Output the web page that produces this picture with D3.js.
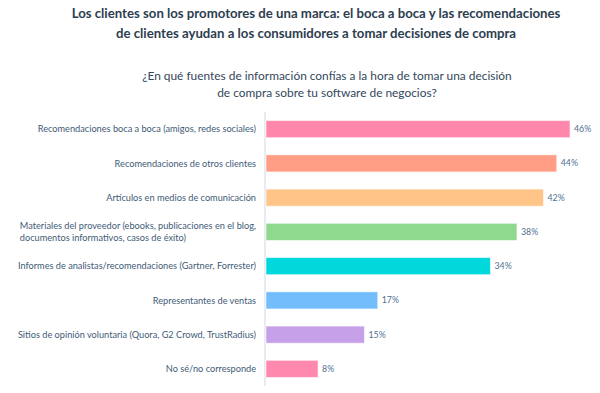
<!DOCTYPE html>
<html>
<head>
<meta charset="utf-8">
<script src="https://cdn.jsdelivr.net/npm/d3@7"></script>
<style>
html,body{margin:0;padding:0;background:#fff;}
svg{display:block;font-family:Lato, "Open Sans", sans-serif;}
</style>
</head>
<body>
<svg id="chart" width="600" height="393"></svg>
<script>
const titleLines = [
  "Los clientes son los promotores de una marca: el boca a boca y las recomendaciones",
  "de clientes ayudan a los consumidores a tomar decisiones de compra"
];
const subtitleLines = [
  "¿En qué fuentes de información confías a la hora de tomar una decisión",
  "de compra sobre tu software de negocios?"
];
const categories = [
  ["Recomendaciones boca a boca (amigos, redes sociales)"],
  ["Recomendaciones de otros clientes"],
  ["Artículos en medios de comunicación"],
  ["Materiales del proveedor (ebooks, publicaciones en el blog,", "documentos informativos, casos de éxito)"],
  ["Informes de analistas/recomendaciones (Gartner, Forrester)"],
  ["Representantes de ventas"],
  ["Sitios de opinión voluntaria (Quora, G2 Crowd, TrustRadius)"],
  ["No sé/no corresponde"]
];
const values = [46, 44, 42, 38, 34, 17, 15, 8];
const colors = ["#ff87ab", "#ff9e85", "#ffc588", "#8ed98e", "#00d8db", "#73bdfd", "#c6a0e8", "#ff89ae"];

const svg = d3.select("#chart");
const ids = d3.range(values.length);

const x = d3.scaleLinear().domain([0, d3.max(values)]).range([265, 570]);
const y = d3.scaleBand().domain(ids).range([112, 386]).paddingInner(0.5).paddingOuter(0.25);

// Title
svg.append("g").selectAll("text").data(titleLines).join("text")
  .attr("x", 316).attr("y", (d, i) => 18 + i * 20)
  .attr("text-anchor", "middle")
  .attr("font-size", 13.2).attr("font-weight", 700).attr("fill", "#2d3e50")
  .text(d => d);

// Subtitle
svg.append("g").selectAll("text").data(subtitleLines).join("text")
  .attr("x", 327).attr("y", (d, i) => 80 + i * 17)
  .attr("text-anchor", "middle")
  .attr("font-size", 11.9).attr("fill", "#33475b")
  .text(d => d);

// Axis line
svg.append("line")
  .attr("x1", x(0)).attr("x2", x(0))
  .attr("y1", y.range()[0]).attr("y2", y.range()[1])
  .attr("stroke", "#e1e6ee").attr("stroke-width", 1.5);

// Bars
svg.append("g").selectAll("rect").data(ids).join("rect")
  .attr("x", x(0) + 1)
  .attr("y", i => y(i))
  .attr("width", i => x(values[i]) - x(0) - 1)
  .attr("height", y.bandwidth())
  .attr("fill", i => colors[i])
  .attr("stroke", "rgba(255,255,255,0.55)")
  .attr("stroke-width", 1);

// Value labels
svg.append("g").selectAll("text").data(ids).join("text")
  .attr("x", i => x(values[i]) + 4)
  .attr("y", i => y(i) + y.bandwidth() / 2)
  .attr("dy", "0.35em")
  .attr("font-size", 8.8).attr("fill", "#516f90")
  .text(i => values[i] + "%");

// Category labels
const labelRight = 256;
const lg = svg.append("g");
ids.forEach(i => {
  const lines = categories[i];
  const cy = y(i) + y.bandwidth() / 2;
  const lh = 12.3;
  const t = lg.append("text")
    .attr("font-size", 9.2).attr("fill", "#425b76");
  lines.forEach((ln, j) => {
    t.append("tspan")
      .attr("y", cy + (j - (lines.length - 1) / 2) * lh)
      .attr("dy", "0.35em")
      .text(ln);
  });
  // left-aligned block whose widest line ends at labelRight
  let maxW = 0;
  t.selectAll("tspan").each(function () { maxW = Math.max(maxW, this.getComputedTextLength()); });
  t.selectAll("tspan").attr("x", labelRight - maxW);
});
</script>
</body>
</html>
